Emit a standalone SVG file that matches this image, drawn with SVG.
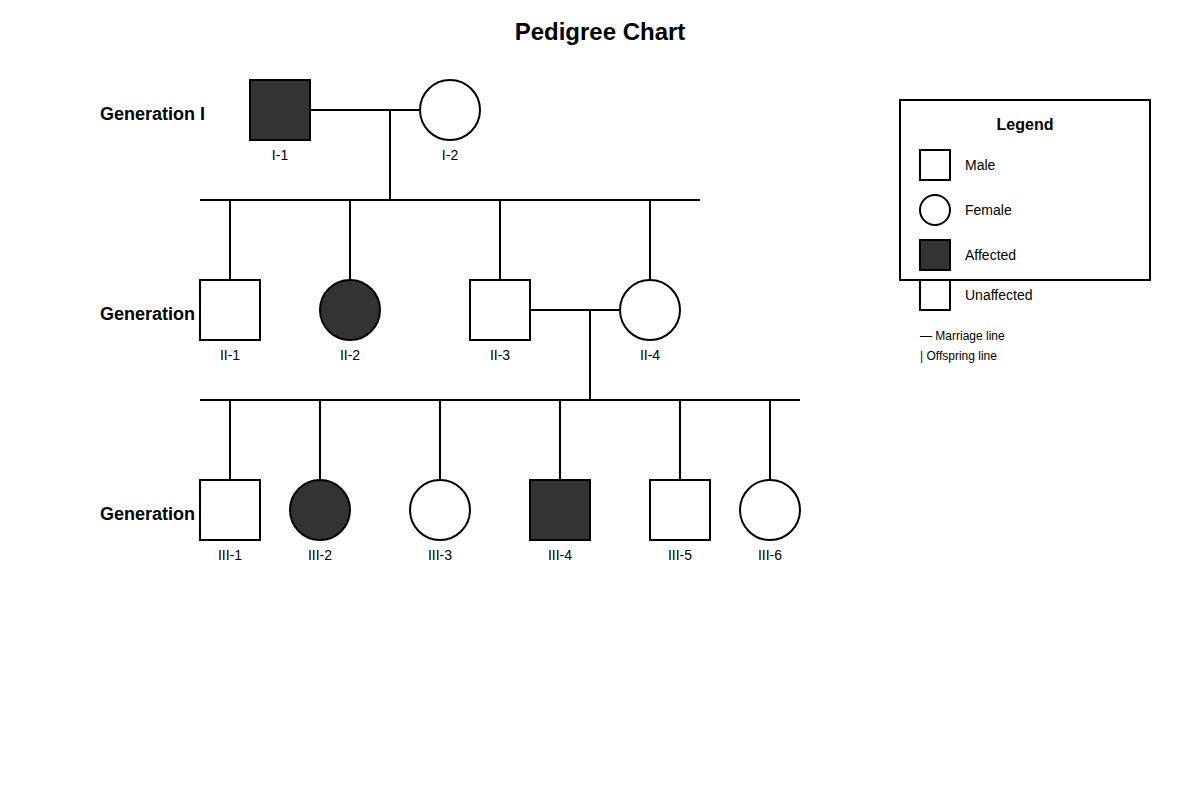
<svg xmlns="http://www.w3.org/2000/svg" width="1200" height="800" viewBox="0 0 1200 800">
<style>
text{font-family:"Liberation Sans",Arial,sans-serif;fill:#000}
.t{font-size:24px;font-weight:bold;text-anchor:middle}
.g{font-size:18px;font-weight:bold}
.l{font-size:14px;text-anchor:middle}
.n{fill:#fff;stroke:#000;stroke-width:2}
.a{fill:#333;stroke:#000;stroke-width:2}
.c line{stroke:#000;stroke-width:2}
.lg{font-size:14px}
.s{font-size:12px}
</style>
<rect width="1200" height="800" fill="#fff"/>
<text class="t" x="600" y="40">Pedigree Chart</text>
<text class="g" x="100" y="120">Generation I</text>
<text class="g" x="100" y="320">Generation II</text>
<text class="g" x="100" y="520">Generation III</text>
<g class="c" id="connectors">
<line x1="310" y1="110" x2="420" y2="110"/>
<line x1="390" y1="110" x2="390" y2="200"/>
<line x1="200" y1="200" x2="700" y2="200"/>
<line x1="230" y1="200" x2="230" y2="280"/>
<line x1="350" y1="200" x2="350" y2="280"/>
<line x1="500" y1="200" x2="500" y2="280"/>
<line x1="650" y1="200" x2="650" y2="280"/>
<line x1="530" y1="310" x2="620" y2="310"/>
<line x1="590" y1="310" x2="590" y2="400"/>
<line x1="200" y1="400" x2="800" y2="400"/>
<line x1="230" y1="400" x2="230" y2="480"/>
<line x1="320" y1="400" x2="320" y2="480"/>
<line x1="440" y1="400" x2="440" y2="480"/>
<line x1="560" y1="400" x2="560" y2="480"/>
<line x1="680" y1="400" x2="680" y2="480"/>
<line x1="770" y1="400" x2="770" y2="480"/>
</g>
<g id="I-1"><rect class="a" x="250" y="80" width="60" height="60"/><text class="l" x="280" y="160">I-1</text></g>
<g id="I-2"><circle class="n" cx="450" cy="110" r="30"/><text class="l" x="450" y="160">I-2</text></g>
<g id="II-1"><rect class="n" x="200" y="280" width="60" height="60"/><text class="l" x="230" y="360">II-1</text></g>
<g id="II-2"><circle class="a" cx="350" cy="310" r="30"/><text class="l" x="350" y="360">II-2</text></g>
<g id="II-3"><rect class="n" x="470" y="280" width="60" height="60"/><text class="l" x="500" y="360">II-3</text></g>
<g id="II-4"><circle class="n" cx="650" cy="310" r="30"/><text class="l" x="650" y="360">II-4</text></g>
<g id="III-1"><rect class="n" x="200" y="480" width="60" height="60"/><text class="l" x="230" y="560">III-1</text></g>
<g id="III-2"><circle class="a" cx="320" cy="510" r="30"/><text class="l" x="320" y="560">III-2</text></g>
<g id="III-3"><circle class="n" cx="440" cy="510" r="30"/><text class="l" x="440" y="560">III-3</text></g>
<g id="III-4"><rect class="a" x="530" y="480" width="60" height="60"/><text class="l" x="560" y="560">III-4</text></g>
<g id="III-5"><rect class="n" x="650" y="480" width="60" height="60"/><text class="l" x="680" y="560">III-5</text></g>
<g id="III-6"><circle class="n" cx="770" cy="510" r="30"/><text class="l" x="770" y="560">III-6</text></g>
<g id="legend">
<rect x="900" y="100" width="250" height="180" fill="#fff" stroke="#000" stroke-width="2"/>
<text x="1025" y="130" font-size="16" font-weight="bold" text-anchor="middle">Legend</text>
<rect class="n" x="920" y="150" width="30" height="30"/><text class="lg" x="965" y="170">Male</text>
<circle class="n" cx="935" cy="210" r="15"/><text class="lg" x="965" y="215">Female</text>
<rect class="a" x="920" y="240" width="30" height="30"/><text class="lg" x="965" y="260">Affected</text>
<rect class="n" x="920" y="280" width="30" height="30"/><text class="lg" x="965" y="300">Unaffected</text>
<text class="s" x="920" y="340">— Marriage line</text>
<text class="s" x="920" y="360">| Offspring line</text>
</g>
</svg>
